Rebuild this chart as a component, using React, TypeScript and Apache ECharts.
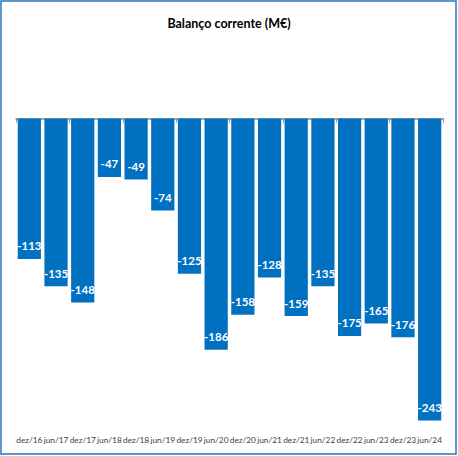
import React, { useEffect, useRef } from "react";
import * as echarts from "echarts";

const categories = ["dez/16", "jun/17", "dez/17", "jun/18", "dez/18", "jun/19", "dez/19", "jun/20", "dez/20", "jun/21", "dez/21", "jun/22", "dez/22", "jun/23", "dez/23", "jun/24"];
const values = [-113, -135, -148, -47, -49, -74, -125, -186, -158, -128, -159, -135, -175, -165, -176, -243];
const titleText = "Balanço corrente (M€)";

export default function App() {
  const ref = useRef<HTMLDivElement>(null);
  useEffect(() => {
    if (!ref.current) return;
    const chart = echarts.init(ref.current, null, { renderer: "svg" });
    const font = "Lato, 'Open Sans', sans-serif";
    chart.setOption({
      animation: false,
      backgroundColor: "#ffffff",
      title: {
        text: titleText,
        left: "center",
        top: 12,
        textStyle: { fontFamily: font, fontSize: 12.5, fontWeight: "bold", color: "#000000" },
      },
      graphic: [
        {
          type: "rect",
          shape: { x: 1, y: 1, width: 455, height: 453 },
          style: { fill: "none", stroke: "#2E75B6", lineWidth: 1.5 },
          silent: true,
        },
      ],
      grid: { left: 16, right: 15, top: 118.5, height: 310.7 },
      xAxis: [
        {
          type: "category",
          data: categories,
          position: "top",
          axisLine: { show: true, onZero: false, lineStyle: { color: "#8c8c8c", width: 1.5 } },
          axisTick: { show: true, inside: true, length: 4, lineStyle: { color: "#8c8c8c" } },
          axisLabel: { show: false },
        },
        {
          type: "category",
          data: categories,
          position: "bottom",
          axisLine: { show: false },
          axisTick: { show: false },
          axisLabel: { interval: 0, fontFamily: font, fontSize: 8.3, color: "#404040", margin: 7 },
        },
      ],
      yAxis: {
        type: "value",
        min: -250,
        max: 0,
        show: false,
        splitLine: { show: false },
      },
      series: [
        {
          type: "bar",
          data: values,
          xAxisIndex: 0,
          barCategoryGap: "13%",
          itemStyle: { color: "#0070C0" },
          label: {
            show: true,
            position: "insideBottom",
            distance: 7,
            color: "#ffffff",
            fontFamily: font,
            fontWeight: "bold",
            fontSize: 11.5,
          },
        },
      ],
    });
    return () => chart.dispose();
  }, []);
  return <div ref={ref} style={{ position: "fixed", left: 0, top: 0, width: 458, height: 456 }} />;
}
